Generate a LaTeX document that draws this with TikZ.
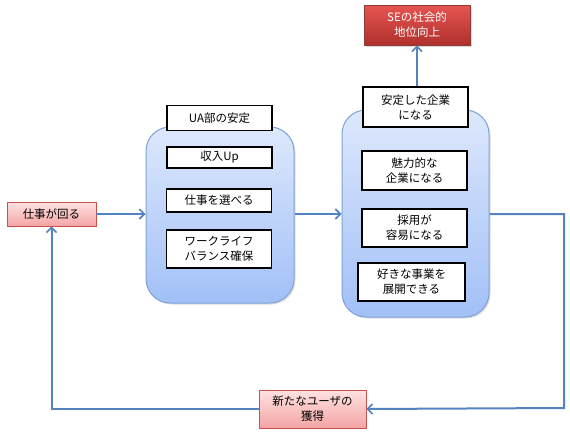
\documentclass[tikz,border=0pt]{standalone}
\usepackage{fontspec}
\setmainfont{Noto Sans CJK JP}
\usepackage{xcolor}
\usepackage{tikz}
\usetikzlibrary{arrows.meta}
\usetikzlibrary{positioning}
\usetikzlibrary{shadows}

\definecolor{flowblue}{HTML}{5483C0}
\definecolor{grptop}{HTML}{DDE8FC}
\definecolor{grpbot}{HTML}{A2C0F7}
\definecolor{grpline}{HTML}{7EA2D8}
\definecolor{pinktop}{HTML}{FFE2E2}
\definecolor{pinkbot}{HTML}{F4A4A4}
\definecolor{pinkline}{HTML}{C8504D}
\definecolor{redtop}{HTML}{E65552}
\definecolor{redbot}{HTML}{B0302D}
\definecolor{redline}{HTML}{8E3A37}

\tikzset{
  grp/.style={draw=grpline,line width=1pt,rounded corners=24pt,top color=grptop,bottom color=grpbot,
    drop shadow={opacity=0.25,shadow xshift=1.5pt,shadow yshift=-1.5pt}},
  wbox/.style={draw=black,line width=1.6pt,fill=white,align=center,inner sep=0pt,
    font=\fontsize{11.5}{15}\selectfont},
  pbox/.style={draw=pinkline,line width=0.8pt,top color=pinktop,bottom color=pinkbot,align=center,
    inner sep=0pt,font=\fontsize{11.5}{15}\selectfont},
  rbox/.style={draw=redline,line width=0.8pt,top color=redtop,bottom color=redbot,align=center,
    inner sep=0pt,text=white,font=\fontsize{11.5}{15}\selectfont,
    drop shadow={opacity=0.3,shadow xshift=1.5pt,shadow yshift=-1.5pt}},
  flow/.style={draw=flowblue,line width=2pt,-{Straight Barb[length=5pt,width=10pt,line width=1.6pt]}},
  flowline/.style={draw=flowblue,line width=2pt}
}

\begin{document}
\begin{tikzpicture}[x=1pt,y=-1pt]
	\useasboundingbox (0,0) rectangle (570,434);
	% groups
	\node[grp,minimum width=148pt,minimum height=176pt] (left) at (220,215) {};
	\node[grp,minimum width=147pt,minimum height=207pt] (right) at (415.5,213.5) {};
	% left group
	\node[wbox,minimum width=105pt,minimum height=25pt] (ua) at (219.5,118) {UA部の安定};
	\node[wbox,minimum width=105pt,minimum height=21pt] (shunyu) at (219.5,157.5) {収入Up};
	\node[wbox,minimum width=105pt,minimum height=23pt] (erabu) at (219,200.5) {仕事を選べる};
	\node[wbox,minimum width=105pt,minimum height=38pt] (wlb) at (219,249) {ワークライフ\\バランス確保};
	% right group
	\node[wbox,minimum width=105pt,minimum height=40pt] (antei) at (415.5,107) {安定した企業\\になる};
	\node[wbox,minimum width=105pt,minimum height=39pt] (miryoku) at (414.5,170.5) {魅力的な\\企業になる};
	\node[wbox,minimum width=105pt,minimum height=38pt] (saiyo) at (414.5,228) {採用が\\容易になる};
	\node[wbox,minimum width=107pt,minimum height=38pt] (jigyo) at (411.5,282) {好きな事業を\\展開できる};
	% others
	\node[rbox,minimum width=106pt,minimum height=40pt] (se) at (417,25) {SEの社会的\\地位向上};
	\node[pbox,minimum width=89pt,minimum height=24pt] (mawaru) at (51.5,214) {仕事が回る};
	\node[pbox,minimum width=107pt,minimum height=38pt] (user) at (312.5,409) {新たなユーザの\\獲得};
	\coordinate (rc) at (564,408);
	% connectors
	\draw[flow] (antei.north -| se) -- (se.south);
	\draw[flow] (mawaru.east) -- (mawaru.east -| left.west);
	\draw[flow] (left.east |- mawaru.east) -- (mawaru.east -| right.west);
	\draw[flow] (right.east |- mawaru.east) -- (mawaru.east -| rc) -- (rc) -- (user.east);
	\draw[flow] (user.west) -- (user.west -| mawaru.south) -- (mawaru.south);
\end{tikzpicture}
\end{document}
